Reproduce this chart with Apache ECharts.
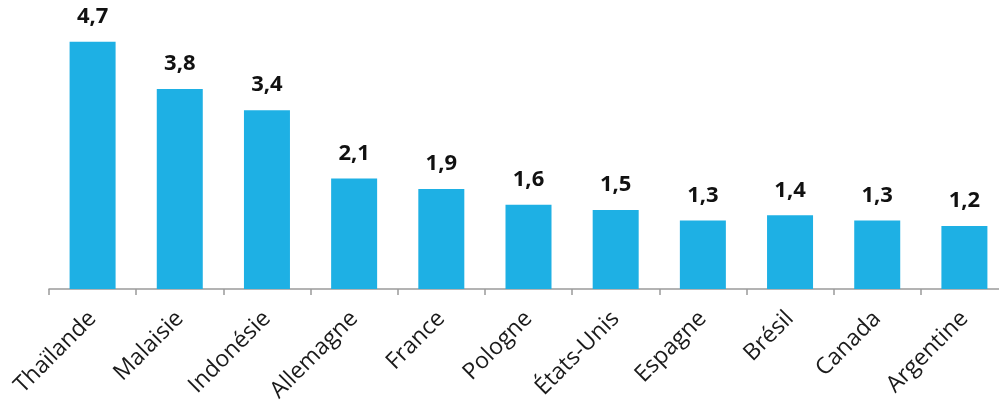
<!DOCTYPE html>
<html>
<head>
<meta charset="utf-8">
<script src="https://cdn.jsdelivr.net/npm/echarts@6.0.0/dist/echarts.min.js"></script>
<style>
  html, body { margin: 0; padding: 0; background: #fff; }
  #chart { width: 999px; height: 403px; }
</style>
</head>
<body>
<div id="chart"></div>
<script>
// country names and values (kg)
const countries = ["Thaïlande", "Malaisie", "Indonésie", "Allemagne", "France", "Pologne",
  "États-Unis", "Espagne", "Brésil", "Canada", "Argentine"];
const values = [4.7, 3.8, 3.4, 2.1, 1.9, 1.6, 1.5, 1.3, 1.4, 1.3, 1.2];

const chart = echarts.init(document.getElementById("chart"), null, { renderer: "canvas" });

chart.setOption({
  animation: false,
  grid: { left: 49, top: 26, width: 959, height: 263, containLabel: false, outerBoundsMode: "none" },
  xAxis: {
    type: "category",
    data: countries,
    axisLine: { lineStyle: { color: "#9a9a9a", width: 1.5 } },
    axisTick: { show: true, alignWithLabel: false, lineStyle: { color: "#9a9a9a", width: 1.5 }, length: 6 },
    axisLabel: {
      rotate: 45,
      interval: 0,
      margin: 26,
      fontFamily: "Open Sans",
      fontSize: 23,
      color: "#1a1a1a"
    }
  },
  yAxis: {
    type: "value",
    min: 0,
    max: 5,
    show: false
  },
  series: [{
    type: "bar",
    data: values,
    barWidth: 46,
    itemStyle: { color: "#1eb0e4" },
    label: {
      show: true,
      position: "top",
      distance: 14,
      fontFamily: "Open Sans",
      fontWeight: "bold",
      fontSize: 22,
      color: "#111",
      formatter: p => String(p.value).replace(".", ",")
    }
  }]
});
</script>
</body>
</html>
